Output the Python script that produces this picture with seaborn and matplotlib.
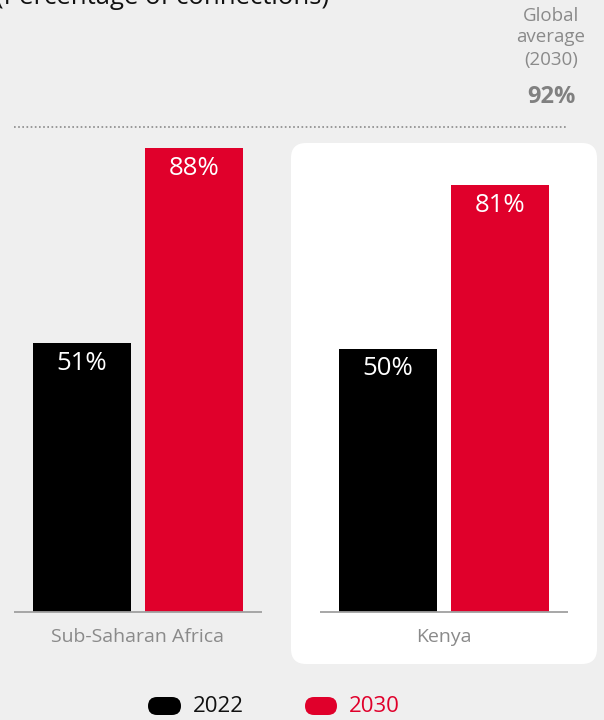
import numpy as np
import pandas as pd
import matplotlib.pyplot as plt
from matplotlib.patches import FancyBboxPatch
import seaborn as sns

regions = ['Sub-Saharan Africa', 'Kenya']
years = ['2022', '2030']
share_2022 = [51, 50]
share_2030 = [88, 81]
global_avg = 92

df = pd.DataFrame({
    'region': regions * 2,
    'year': [years[0]] * 2 + [years[1]] * 2,
    'share': share_2022 + share_2030,
})

BG = '#efefef'
RED = '#e0002b'
GREY = '#8a8a8a'
W, H = 604, 720

sns.set_theme(style='white')
plt.rcParams['font.family'] = ['Open Sans', 'DejaVu Sans']

fig = plt.figure(figsize=(W / 100, H / 100), dpi=100, facecolor=BG)


def fx(x):
    return x / W


def fy(y):
    return 1 - y / H


# white panel behind Kenya
panel = FancyBboxPatch((fx(291), fy(664)), fx(597) - fx(291), fy(143) - fy(664),
                       boxstyle='round,pad=0,rounding_size=0.025',
                       transform=fig.transFigure, facecolor='white', edgecolor='none',
                       mutation_aspect=W / H, zorder=-5)
fig.patches.append(panel)

ax = fig.add_axes([fx(14), fy(612), fx(568) - fx(14), 527 / H])
ax.set_zorder(2)
ax.set_facecolor('none')
ax.patch.set_alpha(0)

sns.barplot(data=df, x='region', y='share', hue='year', order=regions, hue_order=years,
            palette=['#000000', RED], width=0.732, gap=0.126, saturation=1,
            linewidth=0, edgecolor='none', legend=False, ax=ax)

ax.set_xlim(-0.405, 1.405)
ax.set_ylim(0, 100)
for s in ax.spines.values():
    s.set_visible(False)
ax.set_xticks([])
ax.set_yticks([])
ax.set_xlabel('')
ax.set_ylabel('')

# baselines per group
for i in range(len(regions)):
    ax.hlines(0, i - 0.405, i + 0.405, color='#a0a0a0', lw=1.3, clip_on=False)
    ax.annotate(regions[i], (i, 0), xytext=(0, -25), textcoords='offset pixels',
                ha='center', va='center', fontsize=14, color=GREY)

# value labels inside bars
for cont in ax.containers:
    for bar in cont:
        h = bar.get_height()
        ax.annotate(f'{h:.0f}%', (bar.get_x() + bar.get_width() / 2, h),
                    xytext=(0, -20), textcoords='offset pixels',
                    ha='center', va='center', fontsize=18.5, color='white')

# global average line
ax.hlines(global_avg, -0.405, 1.405, color='#8a8a8a', lw=1.2,
          linestyles=(0, (1, 1.5)), clip_on=False)
for txt, y in [('Global', 16), ('average', 37), ('(2030)', 60)]:
    fig.text(fx(551), fy(y), txt, ha='center', va='center', fontsize=13.5, color=GREY)
fig.text(fx(551), fy(97), f'{global_avg}%', ha='center', va='center', fontsize=17,
         fontweight='bold', color='#808080')

# cut-off subtitle at top
fig.text(fx(329), fy(4), '(Percentage of connections)', ha='right', va='baseline',
         fontsize=18.5, color='#111111')

# legend
for (x0, x1), lbl, col, tx in [((148, 181), years[0], '#000000', 193),
                               ((305, 337), years[1], RED, 349)]:
    pill = FancyBboxPatch((fx(x0), fy(715)), fx(x1) - fx(x0), fy(697) - fy(715),
                          boxstyle='round,pad=0,rounding_size=0.015',
                          transform=fig.transFigure, facecolor=col, edgecolor='none',
                          mutation_aspect=W / H)
    fig.patches.append(pill)
    fig.text(fx(tx), fy(707), lbl, ha='left', va='center', fontsize=16,
             color=col if col == RED else '#111111')

fig.savefig('out.png', dpi=100, facecolor=BG)
